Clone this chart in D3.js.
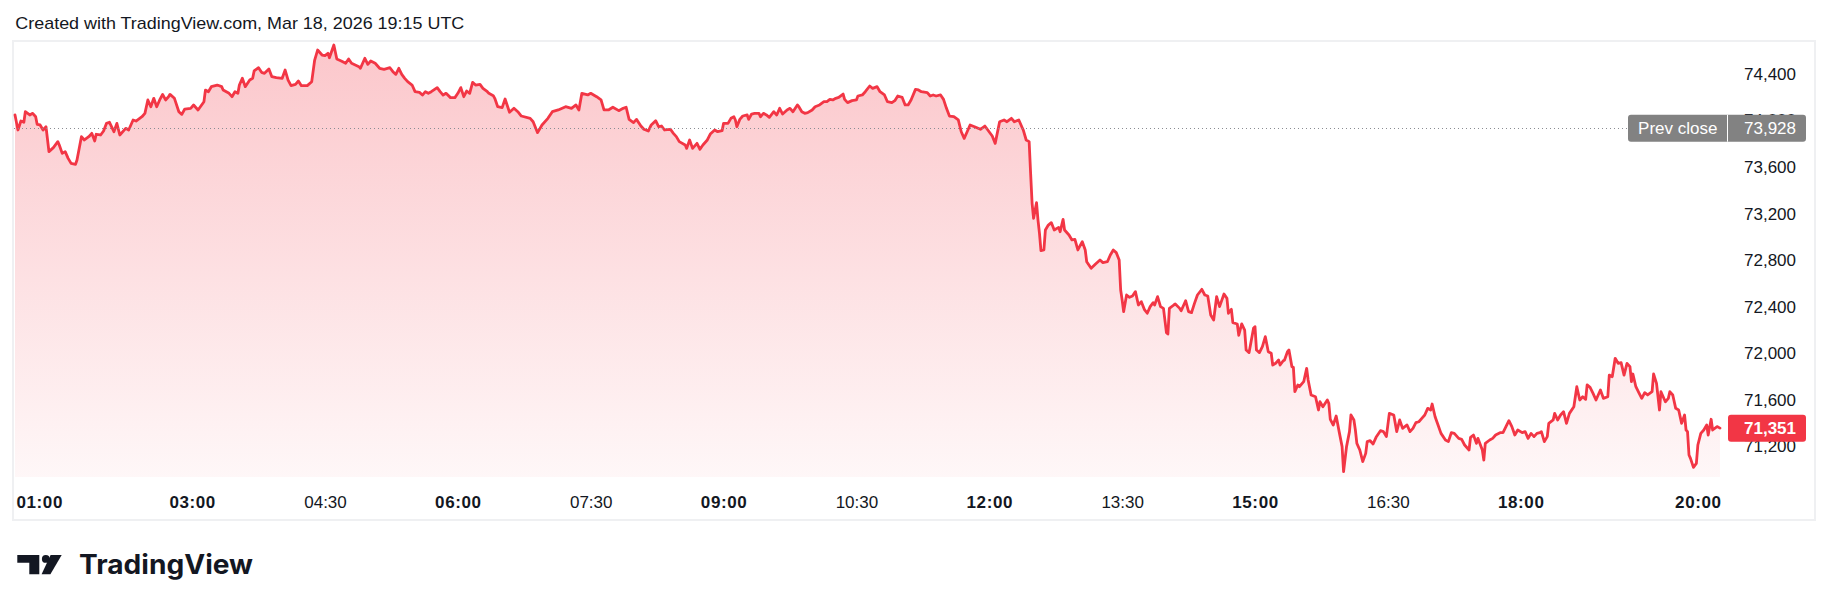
<!DOCTYPE html>
<html>
<head>
<meta charset="utf-8">
<script src="https://cdn.jsdelivr.net/npm/d3@7"></script>
<style>
html,body{margin:0;padding:0;background:#ffffff;}
svg{display:block;}
</style>
</head>
<body>
<svg id="chart" width="1830" height="611"></svg>
<script>
// ---------------- DATA ----------------
const headerText = "Created with TradingView.com, Mar 18, 2026 19:15 UTC";
const brandText = "TradingView";
const prevCloseLabel = "Prev close";
const prevClose = 73928;
const lastPrice = 71351;

const priceTicks = [71200, 71600, 72000, 72400, 72800, 73200, 73600, 74000, 74400];
const timeTicks = ["01:00","03:00","04:30","06:00","07:30","09:00","10:30","12:00","13:30","15:00","16:30","18:00","20:00"];

const times = [
 // 01
 "01:00","01:02","01:04","01:06","01:07","01:10","01:12","01:14","01:15","01:17","01:19","01:21","01:23","01:26","01:29","01:30","01:32","01:34","01:36","01:38","01:41","01:42","01:45","01:47","01:50","01:52","01:54","01:55","01:58",
 // 02
 "02:00","02:02","02:04","02:07","02:09","02:11","02:15","02:17","02:20","02:22","02:26","02:28","02:30","02:32","02:34","02:36","02:38","02:40","02:42","02:44","02:45","02:48","02:51","02:53","02:55","02:59",
 // 03
 "03:01","03:04","03:08","03:09","03:11","03:13","03:17","03:20","03:21","03:25","03:27","03:29","03:31","03:32","03:34","03:36","03:39","03:41","03:42","03:45","03:47","03:49","03:52","03:54","03:57",
 // 04
 "04:01","04:03","04:05","04:07","04:10","04:12","04:14","04:18","04:21","04:23","04:25","04:28","04:30","04:32","04:33","04:36","04:38","04:41","04:44","04:46","04:48","04:53","04:54","04:57","04:59",
 // 05
 "05:01","05:04","05:07","05:10","05:14","05:16","05:18","05:20","05:22","05:24","05:26","05:29","05:31","05:34","05:36","05:38","05:40","05:42","05:46","05:48","05:50","05:52","05:55","05:58",
 // 06
 "06:00","06:02","06:04","06:06","06:08","06:10","06:12","06:15","06:17","06:20","06:21","06:24","06:25","06:27","06:30","06:32","06:35","06:38","06:41","06:43","06:49","06:51","06:54","06:57",
 // 07
 "07:01","07:04","07:08","07:13","07:17","07:20","07:22","07:24","07:28","07:30","07:34","07:37","07:39","07:42","07:45","07:49","07:52","07:54","07:56","07:59",
 // 08
 "08:01","08:04","08:06","08:09","08:11","08:14","08:16","08:18","08:20","08:24","08:26","08:28","08:30","08:34","08:35","08:37","08:39","08:42","08:44","08:46","08:49","08:51","08:54","08:56","08:59",
 // 09
 "09:00","09:03","09:05","09:07","09:08","09:09","09:11","09:13","09:16","09:17","09:19","09:21","09:24","09:25","09:27","09:29","09:31","09:34","09:36","09:38","09:40","09:43","09:45","09:47","09:50","09:51","09:53","09:55","09:57",
 // 10
 "10:00","10:02","10:05","10:08","10:10","10:12","10:14","10:16","10:18","10:21","10:22","10:24","10:27","10:30","10:31","10:34","10:36","10:39","10:41","10:44","10:46","10:49","10:51","10:54","10:56","10:58",
 // 11
 "11:01","11:03","11:05","11:07","11:10","11:12","11:14","11:18","11:20","11:22","11:24","11:27","11:29","11:31","11:33","11:36","11:39","11:41","11:43","11:45","11:47","11:50","11:54","11:57","11:59",
 // 12
 "12:02","12:04","12:07","12:10","12:12","12:15","12:17","12:20","12:23","12:25","12:27","12:28","12:29","12:30","12:32","12:33","12:34","12:35","12:37","12:38","12:40","12:42","12:44","12:47","12:48","12:50","12:51","12:54","12:56","12:58",
 // 13
 "13:00","13:03","13:05","13:06","13:09","13:12","13:15","13:17","13:20","13:22","13:24","13:26","13:28","13:29","13:30","13:31","13:33","13:35","13:37","13:39","13:41","13:43","13:45","13:47","13:49","13:51","13:52","13:54","13:56","13:58",
 // 14
 "14:00","14:01","14:02","14:05","14:06","14:09","14:10","14:13","14:15","14:17","14:19","14:21","14:24","14:26","14:28","14:30","14:32","14:34","14:36","14:39","14:41","14:42","14:44","14:45","14:48","14:49","14:51","14:53","14:54","14:56","14:59",
 // 15
 "15:00","15:01","15:03","15:05","15:07","15:09","15:11","15:12","15:14","15:16","15:17","15:19","15:20","15:22","15:23","15:25","15:26","15:27","15:29","15:30","15:33","15:35","15:36","15:38","15:41","15:43","15:44","15:46","15:49","15:50","15:51","15:53","15:55","15:57","15:59",
 // 16
 "16:00","16:02","16:04","16:05","16:07","16:08","16:09","16:11","16:13","16:15","16:16","16:18","16:20","16:22","16:25","16:27","16:29","16:31","16:34","16:36","16:38","16:40","16:43","16:45","16:47","16:49","16:51","16:53","16:55","16:57","16:59",
 // 17
 "17:00","17:02","17:04","17:06","17:09","17:11","17:13","17:15","17:18","17:20","17:22","17:25","17:26","17:28","17:30","17:31","17:34","17:35","17:36","17:39","17:41","17:43","17:46","17:48","17:50","17:52","17:54","17:56","17:58",
 // 18
 "18:01","18:03","18:05","18:07","18:09","18:11","18:13","18:14","18:16","18:18","18:19","18:22","18:23","18:25","18:27","18:29","18:31","18:33","18:36","18:38","18:40","18:42","18:44","18:45","18:47","18:49","18:51","18:54","18:56","18:59",
 // 19
 "19:00","19:02","19:04","19:06","19:08","19:10","19:12","19:14","19:15","19:16","19:18","19:20","19:22","19:24","19:26","19:29","19:30","19:32","19:34","19:35","19:38","19:40","19:41","19:43","19:45","19:47","19:49","19:51","19:52","19:53","19:54","19:55","19:57","19:59",
 // 20
 "20:00","20:02","20:04","20:06","20:07","20:09","20:10","20:13","20:15"
];

const prices = [
 // 01
 74042,73913,73990,73979,74070,74042,74056,74027,73962,73956,73913,73941,73727,73761,73813,73784,73712,73727,73669,73626,73618,73655,73855,73827,73855,73884,73818,73876,73870,
 // 02
 73904,73970,73979,73898,73970,73870,73927,73913,73999,73990,74027,74056,74171,74113,74185,74113,74171,74219,74171,74199,74219,74185,74070,74047,74093,74099,
 // 03
 74128,74085,74156,74256,74242,74285,74299,74285,74256,74228,74199,74242,74228,74299,74357,74285,74342,74357,74420,74448,74408,74400,74437,74371,74362,
 // 04
 74357,74428,74342,74294,74305,74334,74294,74294,74328,74514,74600,74557,74552,74572,74534,74643,74523,74506,74486,74523,74486,74457,74443,74529,74477,
 // 05
 74506,74486,74443,74434,74448,74414,74391,74443,74391,74357,74328,74299,74242,74236,74213,74242,74228,74242,74277,74242,74213,74228,74191,74191,
 // 06
 74228,74277,74199,74248,74228,74322,74299,74305,74271,74242,74228,74208,74185,74113,74105,74179,74065,74099,74065,74033,74013,73984,73890,73956,
 // 07
 74013,74070,74085,74113,74099,74128,74085,74228,74214,74228,74199,74171,74085,74085,74108,74079,74099,74108,74004,73976,
 // 08
 74004,73947,73919,73904,73956,73993,73941,73947,73913,73919,73884,73856,73813,73784,73755,73827,73755,73798,73747,73784,73827,73878,73913,73898,73907,
 // 09
 73970,73970,74013,74027,73999,73941,74004,74033,74042,74004,74050,74056,74056,74027,74056,74042,74022,74070,74042,74099,74050,74085,74099,74070,74128,74113,74070,74056,74062,
 // 10
 74085,74113,74128,74156,74156,74176,74171,74185,74193,74222,74176,74148,74165,74171,74205,74214,74242,74291,74271,74285,74242,74214,74156,74148,74165,74205,
 // 11
 74193,74128,74128,74171,74262,74257,74242,74234,74205,74214,74205,74214,74176,74099,74033,74027,73999,73898,73841,73898,73956,73941,73919,73947,73913,
 // 12
 73861,73798,73984,73999,73984,74013,73984,73999,73913,73827,73813,73540,73283,73154,73288,73139,73025,72876,72882,73053,73096,73117,73053,73076,73039,73145,73053,73011,72968,72973,
 // 13
 72882,72953,72882,72781,72724,72761,72796,72773,72781,72839,72882,72859,72796,72538,72452,72352,72495,72475,72486,72524,72409,72438,72372,72338,72395,72429,72409,72481,72395,72380,
 // 14
 72171,72160,72380,72409,72418,72380,72360,72446,72352,72343,72423,72495,72544,72495,72486,72323,72280,72481,72395,72504,72466,72338,72372,72257,72246,72149,72246,72194,72022,72000,72209,
 // 15
 72223,72022,72000,72051,72137,72008,71994,71893,71908,71936,71893,71928,71936,72008,72022,71879,71873,71664,71722,71707,71750,71865,71765,71636,71621,71507,71578,71535,71593,71564,71427,71378,71455,71321,71192,
 // 16
 70977,71192,71321,71464,71421,71335,71220,71163,71063,71134,71235,71243,71215,71272,71329,71321,71278,71478,71464,71321,71421,71349,71378,71321,71349,71398,71406,71435,71464,71521,71507,
 // 17
 71558,71449,71378,71306,71249,71235,71312,71306,71263,71255,71206,71163,71272,71292,71220,71263,71163,71077,71220,71249,71263,71292,71312,71312,71364,71415,71364,71292,71335,
 // 18
 71312,71321,71263,71306,71278,71306,71312,71321,71235,71278,71392,71421,71478,71421,71464,71492,71392,71478,71535,71707,71593,71621,71598,71722,71701,71650,71593,71679,71607,71621,
 // 19
 71807,71793,71951,71908,71914,71807,71908,71879,71750,71816,71707,71656,71607,71656,71636,71664,71816,71736,71507,71664,71578,71607,71664,71636,71521,71507,71392,71464,71335,71321,71120,71091,71014,71048,
 // 20
 71206,71306,71335,71378,71292,71427,71335,71364,71351
];

// ---------------- LAYOUT ----------------
const W = 1830, H = 611;
const FONT = "'Liberation Sans', Arial, sans-serif";
const TEXT = "#131722";
const RED = "#f23645";
const pane = {left: 13, right: 1727, top: 41, bottom: 477};
const frame = {x: 13, y: 41, w: 1802, h: 479};
const plotX0 = 15, plotX1 = 1720;
const priceAxisRight = 1796;
const timeAxisY = 501.7;

const svg = d3.select("#chart").attr("width", W).attr("height", H);
svg.append("rect").attr("width", W).attr("height", H).attr("fill", "#ffffff");

const parseTime = d3.timeParse("%H:%M");
const data = times.map((t, i) => ({t: parseTime(t), v: prices[i]}));

const x = d3.scaleTime()
  .domain(d3.extent(data, d => d.t))
  .range([plotX0, plotX1]);
const y = d3.scaleLinear()
  .domain([priceTicks[0], priceTicks[priceTicks.length - 1]])
  .range([445.7, 73.3]);

// frame
svg.append("rect")
  .attr("x", frame.x).attr("y", frame.y).attr("width", frame.w).attr("height", frame.h)
  .attr("fill", "none").attr("stroke", "#eff0f2").attr("stroke-width", 2);

// defs
const defs = svg.append("defs");
const grad = defs.append("linearGradient").attr("id", "areaGrad")
  .attr("gradientUnits", "userSpaceOnUse")
  .attr("x1", 0).attr("x2", 0).attr("y1", y(d3.max(prices))).attr("y2", pane.bottom);
grad.append("stop").attr("offset", 0).attr("stop-color", RED).attr("stop-opacity", 0.28);
grad.append("stop").attr("offset", 1).attr("stop-color", RED).attr("stop-opacity", 0.04);
defs.append("clipPath").attr("id", "paneClip").append("rect")
  .attr("x", pane.left).attr("y", pane.top).attr("width", pane.right - pane.left).attr("height", pane.bottom - pane.top);

const plot = svg.append("g").attr("clip-path", "url(#paneClip)");

// area
plot.append("path").datum(data)
  .attr("fill", "url(#areaGrad)")
  .attr("d", d3.area().x(d => x(d.t)).y0(pane.bottom).y1(d => y(d.v)));

// prev close dotted line
const boxLeft = 1628, boxSplit = 1727.5, boxRight = 1806, boxH = 27;
svg.append("line")
  .attr("x1", pane.left + 1).attr("x2", boxLeft)
  .attr("y1", Math.round(y(prevClose)) + 0.5).attr("y2", Math.round(y(prevClose)) + 0.5)
  .attr("stroke", "#8a8c93").attr("stroke-width", 1).attr("stroke-dasharray", "1,3");

// line
plot.append("path").datum(data)
  .attr("fill", "none").attr("stroke", RED).attr("stroke-width", 2.8)
  .attr("stroke-linejoin", "round").attr("stroke-linecap", "round")
  .attr("d", d3.line().x(d => x(d.t)).y(d => y(d.v)));

// price axis
const gy = svg.append("g")
  .attr("transform", `translate(${priceAxisRight},0)`)
  .call(d3.axisRight(y).tickValues(priceTicks).tickFormat(d3.format(",")).tickSize(0).tickPadding(0));
gy.select(".domain").remove();
gy.attr("font-family", FONT).attr("font-size", 17);
gy.selectAll("text").attr("text-anchor", "end").attr("x", 0).attr("dy", "0.36em").attr("fill", TEXT);

// prev close label
const pcY = y(prevClose);
svg.append("rect")
  .attr("x", boxLeft).attr("y", pcY - boxH / 2).attr("width", boxRight - boxLeft).attr("height", boxH)
  .attr("rx", 3).attr("fill", "#828282");
svg.append("line")
  .attr("x1", boxSplit).attr("x2", boxSplit).attr("y1", pcY - boxH / 2).attr("y2", pcY + boxH / 2)
  .attr("stroke", "#ffffff").attr("stroke-width", 1);
svg.append("text")
  .attr("x", (boxLeft + boxSplit) / 2).attr("y", pcY).attr("dy", "0.36em")
  .attr("text-anchor", "middle").attr("font-family", FONT).attr("font-size", 17)
  .attr("fill", "#ffffff").text(prevCloseLabel);
svg.append("text")
  .attr("x", priceAxisRight).attr("y", pcY).attr("dy", "0.36em")
  .attr("text-anchor", "end").attr("font-family", FONT).attr("font-size", 17)
  .attr("fill", "#ffffff").text(d3.format(",")(prevClose));

// last price label
const lpY = y(lastPrice);
svg.append("rect")
  .attr("x", boxSplit + 0.5).attr("y", lpY - boxH / 2).attr("width", boxRight - boxSplit - 0.5).attr("height", boxH)
  .attr("rx", 3).attr("fill", RED);
svg.append("text")
  .attr("x", priceAxisRight).attr("y", lpY).attr("dy", "0.36em")
  .attr("text-anchor", "end").attr("font-family", FONT).attr("font-size", 17).attr("font-weight", 700)
  .attr("fill", "#ffffff").text(d3.format(",")(lastPrice));

// time axis
const gx = svg.append("g")
  .attr("transform", `translate(0,${timeAxisY})`)
  .call(d3.axisBottom(x).tickValues(timeTicks.map(parseTime)).tickFormat(d3.timeFormat("%H:%M")).tickSize(0).tickPadding(0));
gx.select(".domain").remove();
gx.attr("font-family", FONT).attr("font-size", 17);
gx.selectAll("text")
  .attr("y", 0).attr("dy", "0.36em").attr("fill", TEXT)
  .attr("font-weight", d => d.getMinutes() === 0 ? 700 : 400)
  .attr("letter-spacing", d => d.getMinutes() === 0 ? 0.6 : 0);
// keep labels inside the pane like TradingView does
gx.selectAll(".tick").each(function(d) {
  const t = d3.select(this).select("text").node();
  const half = t.getComputedTextLength() / 2;
  const px = x(d);
  const minX = plotX0 + half + 1;
  if (px < minX) d3.select(this).select("text").attr("x", minX - px);
});

// header
svg.append("text")
  .attr("x", 15.3).attr("y", 29.3)
  .attr("font-family", FONT).attr("font-size", 17).attr("fill", TEXT)
  .attr("textLength", 449).attr("lengthAdjust", "spacingAndGlyphs")
  .text(headerText);

// TradingView logo
const logo = svg.append("g").attr("fill", TEXT);
logo.append("path").attr("d", "M17.3,555 H39.3 V574.3 H29.3 V562.7 H17.3 Z");
logo.append("circle").attr("cx", 45.8).attr("cy", 558.9).attr("r", 3.9);
logo.append("path").attr("d", "M50.6,555 H61.7 L50.4,574.3 H41.6 Z");
logo.append("text")
  .attr("x", 79).attr("y", 574.3)
  .attr("font-family", "Inter, 'Noto Sans', sans-serif").attr("font-weight", 700).attr("font-size", 26.5)
  .attr("textLength", 174).attr("lengthAdjust", "spacingAndGlyphs")
  .text(brandText);
</script>
</body>
</html>
